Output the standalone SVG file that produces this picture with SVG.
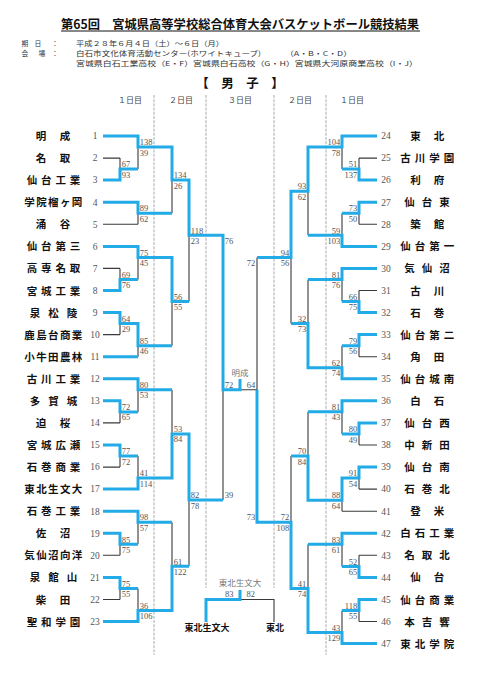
<svg xmlns="http://www.w3.org/2000/svg" width="481" height="680" viewBox="0 0 481 680">
<style>
.ttl{font-family:"Noto Sans CJK JP",sans-serif;font-weight:bold;font-size:12.5px;fill:#111}
.info{font-family:"Noto Sans CJK JP",sans-serif;font-size:6.8px;fill:#333}
.sex{font-family:"Noto Sans CJK JP",sans-serif;font-weight:bold;font-size:12.5px;fill:#111;text-anchor:middle}
.hd{font-family:"Noto Sans CJK JP",sans-serif;font-size:8px;fill:#444;text-anchor:middle}
.nm{font-family:"Noto Sans CJK JP",sans-serif;font-weight:bold;font-size:10.5px;fill:#111;text-anchor:middle}
.no{font-family:"Liberation Serif",serif;font-size:9.5px;fill:#555;text-anchor:middle}
.sc{font-family:"Liberation Serif",serif;font-size:8.5px;fill:#555}
.sr{font-family:"Liberation Serif",serif;font-size:8.5px;fill:#555;text-anchor:end}
.lbl{font-family:"Noto Sans CJK JP",sans-serif;font-size:8.5px;fill:#777;text-anchor:middle}
.fn{font-family:"Noto Sans CJK JP",sans-serif;font-weight:bold;font-size:9px;fill:#111;text-anchor:middle}
.dash{stroke:#a0a0a0;stroke-width:0.9;stroke-dasharray:3 1.2;fill:none}
.blk{stroke:#3a3a3a;stroke-width:1.1;fill:none}
.blu{stroke:#22abe6;stroke-width:3;fill:none;stroke-linejoin:miter}
</style>
<rect width="481" height="680" fill="#fff"/>
<g id="title">
<text class="ttl" x="61" y="28.7" textLength="358" lengthAdjust="spacingAndGlyphs">第65回　宮城県高等学校総合体育大会バスケットボール競技結果</text>
<line x1="61" y1="31" x2="420" y2="31" stroke="#111" stroke-width="1"/>
</g>
<g id="info">
<text class="info" x="25" y="45.8" text-anchor="middle">期</text><text class="info" x="38" y="45.8" text-anchor="middle">日</text><text class="info" x="55" y="45.8" text-anchor="middle">：</text>
<text class="info" x="76" y="45.8" textLength="148" lengthAdjust="spacingAndGlyphs">平成２８年６月４日（土）～６日（月）</text>
<text class="info" x="25" y="55.8" text-anchor="middle">会</text><text class="info" x="42" y="55.8" text-anchor="middle">場</text><text class="info" x="55" y="55.8" text-anchor="middle">：</text>
<text class="info" x="76" y="55.8" textLength="185" lengthAdjust="spacingAndGlyphs">白石市文化体育活動センター(ホワイトキューブ)</text>
<text class="info" x="285" y="55.8" textLength="67" lengthAdjust="spacingAndGlyphs">（A・B・C・D）</text>
<text class="info" x="76" y="65.8" textLength="342" lengthAdjust="spacingAndGlyphs">宮城県白石工業高校（E・F）宮城県白石高校（G・H）宮城県大河原商業高校（I・J）</text>
</g>
<g id="section">
<text class="sex" x="240" y="88">【　男　子　】</text>
</g>
<g id="headers">
<text class="hd" x="130" y="103">１日目</text>
<text class="hd" x="181" y="103">２日目</text>
<text class="hd" x="240" y="103">３日目</text>
<text class="hd" x="300" y="103">２日目</text>
<text class="hd" x="352" y="103">１日目</text>
</g>
<g id="dividers">
<path class="dash" d="M154 95V655 M206 95V588 M274 95V588 M326 95V655"/>
</g>
<g id="connectors">
<path class="blk" d="M103 136H138 M103 158.1H120 M103 180.1H120 M103 202.2H138 M103 224.3H138 M103 246.4H138 M103 268.4H120 M103 290.5H120 M103 312.6H120 M103 334.6H120 M103 356.7H138 M103 378.8H138 M103 400.8H120 M103 422.9H120 M103 445H120 M103 467.1H120 M103 489.1H138 M103 511.2H138 M103 533.3H120 M103 555.3H120 M103 577.4H120 M103 599.5H120 M103 621.5H138
M120 158.1V180.1 M120 268.4V290.5 M120 312.6V334.6 M120 400.8V422.9 M120 445V467.1 M120 533.3V555.3 M120 577.4V599.5
M138 136V169.1 M138 202.2V224.3 M138 246.4V279.5 M138 323.6V356.7 M138 378.8V411.9 M138 456V489.1 M138 511.2V544.3 M138 588.4V621.5
M172 147V213.2 M172 257.4V345.7 M172 389.8V478.1 M172 522.2V610.5
M189 180.1V301.5 M189 433.9V566.3
M223 235.3V500.1 M223 389.8H257 M257 257.4V522.2
M377 136H342 M377 158.1H359 M377 180.1H359 M377 202.2H359 M377 224.3H359 M377 246.4H342 M377 268.4H342 M377 290.5H359 M377 312.6H359 M377 334.6H359 M377 356.7H359 M377 378.8H342 M377 400.8H342 M377 422.9H359 M377 445H359 M377 467.1H359 M377 489.1H359 M377 511.2H342 M377 533.3H342 M377 555.3H359 M377 577.4H359 M377 599.5H359 M377 621.5H359 M377 643.6H342
M359 158.1V180.1 M359 202.2V224.3 M359 290.5V312.6 M359 334.6V356.7 M359 422.9V445 M359 467.1V489.1 M359 555.3V577.4 M359 599.5V621.5
M342 136V169.1 M342 213.2V246.4 M342 268.4V301.5 M342 345.7V378.8 M342 400.8V434 M342 478.1V511.2 M342 533.3V566.4 M342 610.5V643.6
M308 147V235.3 M308 279.4V367.8 M308 411.8V500.2 M308 544.3V632.6
M291 191.2V323.6 M291 456V588.4
M206 599.5H274V622"/>
<path class="blu" d="M103 136H138V147H172V180.1H189V235.3H223V389.8H240V379"/>
<path class="blu" d="M103 180.1H120V169.1H138"/>
<path class="blu" d="M103 202.2H138V213.2H172"/>
<path class="blu" d="M103 246.4H138V257.4H172V301.5H189"/>
<path class="blu" d="M103 290.5H120V279.5H138"/>
<path class="blu" d="M103 312.6H120V323.6H138V345.7H172"/>
<path class="blu" d="M103 356.7H138"/>
<path class="blu" d="M103 378.8H138V389.8H172"/>
<path class="blu" d="M103 400.8H120V411.9H138"/>
<path class="blu" d="M103 445H120V456H138"/>
<path class="blu" d="M103 489.1H138V478.1H172V433.9H189V500.1H223"/>
<path class="blu" d="M103 511.2H138V522.2H172"/>
<path class="blu" d="M103 533.3H120V544.3H138"/>
<path class="blu" d="M103 577.4H120V588.4H138"/>
<path class="blu" d="M103 621.5H138V610.5H172V566.3H189"/>
<path class="blu" d="M377 136H342V147H308V191.2H291V257.4H257"/>
<path class="blu" d="M377 180.1H359V169.1H342"/>
<path class="blu" d="M377 202.2H359V213.2H342"/>
<path class="blu" d="M377 246.4H342V235.3H308"/>
<path class="blu" d="M377 268.4H342V279.4H308"/>
<path class="blu" d="M377 312.6H359V301.5H342"/>
<path class="blu" d="M377 334.6H359V345.7H342"/>
<path class="blu" d="M377 378.8H342V367.8H308V323.6H291"/>
<path class="blu" d="M377 400.8H342V411.8H308"/>
<path class="blu" d="M377 422.9H359V434H342"/>
<path class="blu" d="M377 467.1H359V478.1H342V500.2H308V456H291"/>
<path class="blu" d="M377 533.3H342V544.3H308"/>
<path class="blu" d="M377 577.4H359V566.4H342"/>
<path class="blu" d="M377 599.5H359V610.5H342"/>
<path class="blu" d="M377 643.6H342V632.6H308V588.4H291V522.2H257V389.8"/>
<path class="blu" d="M206 622V599.5H240V590"/>
</g>
<g id="scores">
<text class="sc" x="121.8" y="167.3">67</text><text class="sc" x="121.8" y="177.6">93</text>
<text class="sc" x="121.8" y="277.7">69</text><text class="sc" x="121.8" y="288">76</text>
<text class="sc" x="121.8" y="321.8">64</text><text class="sc" x="121.8" y="332.1">29</text>
<text class="sc" x="121.8" y="410.1">72</text><text class="sc" x="121.8" y="420.4">65</text>
<text class="sc" x="121.8" y="454.2">77</text><text class="sc" x="121.8" y="464.5">72</text>
<text class="sc" x="121.8" y="542.5">85</text><text class="sc" x="121.8" y="552.8">75</text>
<text class="sc" x="121.8" y="586.6">75</text><text class="sc" x="121.8" y="596.9">55</text>
<text class="sc" x="139.8" y="145.2">138</text><text class="sc" x="139.8" y="155.5">39</text>
<text class="sc" x="139.8" y="211.4">89</text><text class="sc" x="139.8" y="221.7">62</text>
<text class="sc" x="139.8" y="255.6">75</text><text class="sc" x="139.8" y="265.9">45</text>
<text class="sc" x="139.8" y="343.9">85</text><text class="sc" x="139.8" y="354.2">46</text>
<text class="sc" x="139.8" y="388">80</text><text class="sc" x="139.8" y="398.3">53</text>
<text class="sc" x="139.8" y="476.3">41</text><text class="sc" x="139.8" y="486.6">114</text>
<text class="sc" x="139.8" y="520.4">98</text><text class="sc" x="139.8" y="530.7">57</text>
<text class="sc" x="139.8" y="608.7">36</text><text class="sc" x="139.8" y="619">106</text>
<text class="sc" x="173.8" y="178.3">134</text><text class="sc" x="173.8" y="188.6">26</text>
<text class="sc" x="173.8" y="299.7">56</text><text class="sc" x="173.8" y="310">55</text>
<text class="sc" x="173.8" y="432.1">53</text><text class="sc" x="173.8" y="442.4">84</text>
<text class="sc" x="173.8" y="564.5">61</text><text class="sc" x="173.8" y="574.8">122</text>
<text class="sc" x="190.8" y="233.5">118</text><text class="sc" x="190.8" y="243.8">23</text>
<text class="sc" x="190.8" y="498.3">82</text><text class="sc" x="190.8" y="508.6">78</text>
<text class="sc" x="224.8" y="243.8">76</text><text class="sc" x="224.8" y="498.3">39</text>
<text class="sc" x="224.8" y="388">72</text><text class="sr" x="255.2" y="388">64</text>
<text class="sr" x="357.2" y="167.3">51</text><text class="sr" x="357.2" y="177.6">137</text>
<text class="sr" x="357.2" y="211.4">73</text><text class="sr" x="357.2" y="221.7">50</text>
<text class="sr" x="357.2" y="299.7">66</text><text class="sr" x="357.2" y="310">75</text>
<text class="sr" x="357.2" y="343.9">79</text><text class="sr" x="357.2" y="354.2">56</text>
<text class="sr" x="357.2" y="432.2">80</text><text class="sr" x="357.2" y="442.5">49</text>
<text class="sr" x="357.2" y="476.3">91</text><text class="sr" x="357.2" y="486.6">54</text>
<text class="sr" x="357.2" y="564.6">52</text><text class="sr" x="357.2" y="574.9">65</text>
<text class="sr" x="357.2" y="608.7">118</text><text class="sr" x="357.2" y="619">55</text>
<text class="sr" x="340.2" y="145.2">104</text><text class="sr" x="340.2" y="155.5">78</text>
<text class="sr" x="340.2" y="233.5">59</text><text class="sr" x="340.2" y="243.8">103</text>
<text class="sr" x="340.2" y="277.6">81</text><text class="sr" x="340.2" y="287.9">76</text>
<text class="sr" x="340.2" y="366">62</text><text class="sr" x="340.2" y="376.3">74</text>
<text class="sr" x="340.2" y="410">81</text><text class="sr" x="340.2" y="420.3">43</text>
<text class="sr" x="340.2" y="498.4">88</text><text class="sr" x="340.2" y="508.7">64</text>
<text class="sr" x="340.2" y="542.5">83</text><text class="sr" x="340.2" y="552.8">61</text>
<text class="sr" x="340.2" y="630.8">43</text><text class="sr" x="340.2" y="641.1">129</text>
<text class="sr" x="306.2" y="189.4">93</text><text class="sr" x="306.2" y="199.7">62</text>
<text class="sr" x="306.2" y="321.8">32</text><text class="sr" x="306.2" y="332.1">73</text>
<text class="sr" x="306.2" y="454.2">70</text><text class="sr" x="306.2" y="464.5">84</text>
<text class="sr" x="306.2" y="586.6">41</text><text class="sr" x="306.2" y="596.9">74</text>
<text class="sr" x="289.2" y="255.6">94</text><text class="sr" x="289.2" y="265.9">56</text>
<text class="sr" x="289.2" y="520.4">72</text><text class="sr" x="289.2" y="530.7">108</text>
<text class="sr" x="255.2" y="265.9">72</text><text class="sr" x="255.2" y="520.4">73</text>
<text class="sc" x="225" y="597">83</text><text class="sr" x="255" y="597">82</text>
</g>
<g id="final">
<text class="lbl" x="240" y="376">明成</text>
</g>
<g id="third">
<text class="lbl" x="240" y="586">東北生文大</text>
<text class="fn" x="207" y="631">東北生文大</text>
<text class="fn" x="275" y="631">東北</text>
</g>
<g id="t1"><text class="nm" x="41 65" y="140">明成</text><text class="no" x="95" y="139.3">1</text></g>
<g id="t2"><text class="nm" x="41 65" y="162.1">名取</text><text class="no" x="95" y="161.4">2</text></g>
<g id="t3"><text class="nm" x="32 46.3 60.7 75" y="184.1">仙台工業</text><text class="no" x="95" y="183.4">3</text></g>
<g id="t4"><text class="nm" x="29.5 41.5 53.3 65.2 77" y="206.2">学院榴ヶ岡</text><text class="no" x="95" y="205.5">4</text></g>
<g id="t5"><text class="nm" x="41 65" y="228.3">涌谷</text><text class="no" x="95" y="227.6">5</text></g>
<g id="t6"><text class="nm" x="32 46.3 60.7 75" y="250.4">仙台第三</text><text class="no" x="95" y="249.7">6</text></g>
<g id="t7"><text class="nm" x="32 46.3 60.7 75" y="272.4">高専名取</text><text class="no" x="95" y="271.7">7</text></g>
<g id="t8"><text class="nm" x="32 46.3 60.7 75" y="294.5">宮城工業</text><text class="no" x="95" y="293.8">8</text></g>
<g id="t9"><text class="nm" x="35 53.5 72" y="316.6">泉松陵</text><text class="no" x="95" y="315.9">9</text></g>
<g id="t10"><text class="nm" x="29.5 41.5 53.3 65.2 77" y="338.6">鹿島台商業</text><text class="no" x="95" y="337.9">10</text></g>
<g id="t11"><text class="nm" x="29.5 41.5 53.3 65.2 77" y="360.7">小牛田農林</text><text class="no" x="95" y="360">11</text></g>
<g id="t12"><text class="nm" x="32 46.3 60.7 75" y="382.8">古川工業</text><text class="no" x="95" y="382.1">12</text></g>
<g id="t13"><text class="nm" x="35 53.5 72" y="404.8">多賀城</text><text class="no" x="95" y="404.1">13</text></g>
<g id="t14"><text class="nm" x="41 65" y="426.9">迫桜</text><text class="no" x="95" y="426.2">14</text></g>
<g id="t15"><text class="nm" x="32 46.3 60.7 75" y="449">宮城広瀬</text><text class="no" x="95" y="448.3">15</text></g>
<g id="t16"><text class="nm" x="32 46.3 60.7 75" y="471.1">石巻商業</text><text class="no" x="95" y="470.4">16</text></g>
<g id="t17"><text class="nm" x="29.5 41.5 53.3 65.2 77" y="493.1">東北生文大</text><text class="no" x="95" y="492.4">17</text></g>
<g id="t18"><text class="nm" x="32 46.3 60.7 75" y="515.2">石巻工業</text><text class="no" x="95" y="514.5">18</text></g>
<g id="t19"><text class="nm" x="41 65" y="537.3">佐沼</text><text class="no" x="95" y="536.6">19</text></g>
<g id="t20"><text class="nm" x="29.5 41.5 53.3 65.2 77" y="559.3">気仙沼向洋</text><text class="no" x="95" y="558.6">20</text></g>
<g id="t21"><text class="nm" x="35 53.5 72" y="581.4">泉館山</text><text class="no" x="95" y="580.7">21</text></g>
<g id="t22"><text class="nm" x="41 65" y="603.5">柴田</text><text class="no" x="95" y="602.8">22</text></g>
<g id="t23"><text class="nm" x="32 46.3 60.7 75" y="625.5">聖和学園</text><text class="no" x="95" y="624.8">23</text></g>
<g id="t24"><text class="nm" x="415.5 439" y="140">東北</text><text class="no" x="386" y="139.3">24</text></g>
<g id="t25"><text class="nm" x="405.5 420 434.5 449" y="162.1">古川学園</text><text class="no" x="386" y="161.4">25</text></g>
<g id="t26"><text class="nm" x="415.5 439" y="184.1">利府</text><text class="no" x="386" y="183.4">26</text></g>
<g id="t27"><text class="nm" x="409.5 427 444.5" y="206.2">仙台東</text><text class="no" x="386" y="205.5">27</text></g>
<g id="t28"><text class="nm" x="415.5 439" y="228.3">築館</text><text class="no" x="386" y="227.6">28</text></g>
<g id="t29"><text class="nm" x="405.5 420 434.5 449" y="250.4">仙台第一</text><text class="no" x="386" y="249.7">29</text></g>
<g id="t30"><text class="nm" x="409.5 427 444.5" y="272.4">気仙沼</text><text class="no" x="386" y="271.7">30</text></g>
<g id="t31"><text class="nm" x="415.5 439" y="294.5">古川</text><text class="no" x="386" y="293.8">31</text></g>
<g id="t32"><text class="nm" x="415.5 439" y="316.6">石巻</text><text class="no" x="386" y="315.9">32</text></g>
<g id="t33"><text class="nm" x="405.5 420 434.5 449" y="338.6">仙台第二</text><text class="no" x="386" y="337.9">33</text></g>
<g id="t34"><text class="nm" x="415.5 439" y="360.7">角田</text><text class="no" x="386" y="360">34</text></g>
<g id="t35"><text class="nm" x="405.5 420 434.5 449" y="382.8">仙台城南</text><text class="no" x="386" y="382.1">35</text></g>
<g id="t36"><text class="nm" x="415.5 439" y="404.8">白石</text><text class="no" x="386" y="404.1">36</text></g>
<g id="t37"><text class="nm" x="409.5 427 444.5" y="426.9">仙台西</text><text class="no" x="386" y="426.2">37</text></g>
<g id="t38"><text class="nm" x="409.5 427 444.5" y="449">中新田</text><text class="no" x="386" y="448.3">38</text></g>
<g id="t39"><text class="nm" x="409.5 427 444.5" y="471.1">仙台南</text><text class="no" x="386" y="470.4">39</text></g>
<g id="t40"><text class="nm" x="409.5 427 444.5" y="493.1">石巻北</text><text class="no" x="386" y="492.4">40</text></g>
<g id="t41"><text class="nm" x="415.5 439" y="515.2">登米</text><text class="no" x="386" y="514.5">41</text></g>
<g id="t42"><text class="nm" x="405.5 420 434.5 449" y="537.3">白石工業</text><text class="no" x="386" y="536.6">42</text></g>
<g id="t43"><text class="nm" x="409.5 427 444.5" y="559.3">名取北</text><text class="no" x="386" y="558.6">43</text></g>
<g id="t44"><text class="nm" x="415.5 439" y="581.4">仙台</text><text class="no" x="386" y="580.7">44</text></g>
<g id="t45"><text class="nm" x="405.5 420 434.5 449" y="603.5">仙台商業</text><text class="no" x="386" y="602.8">45</text></g>
<g id="t46"><text class="nm" x="409.5 427 444.5" y="625.5">本吉響</text><text class="no" x="386" y="624.8">46</text></g>
<g id="t47"><text class="nm" x="405.5 420 434.5 449" y="647.6">東北学院</text><text class="no" x="386" y="646.9">47</text></g>
</svg>
